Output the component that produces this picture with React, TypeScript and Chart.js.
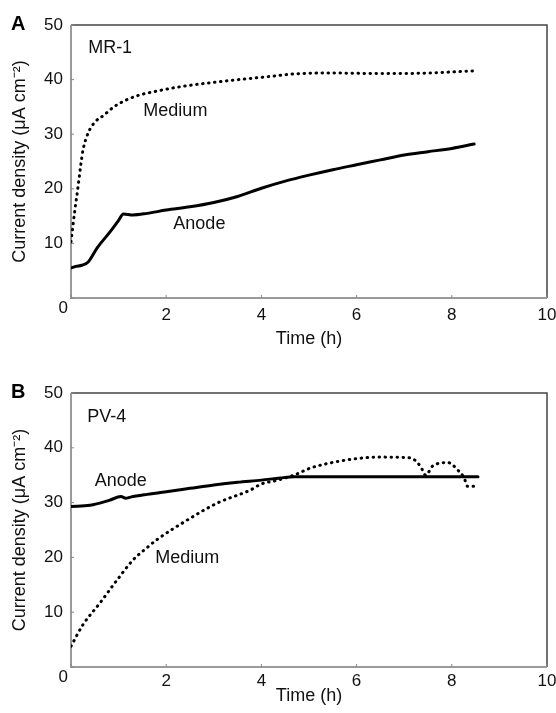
import { useEffect, useRef } from "react";
import { Chart, registerables } from "chart.js";

Chart.register(...registerables);

const FONT = '"Liberation Sans", Arial, sans-serif';

// Axis ranges / ticks
const timeTicks = [0, 2, 4, 6, 8, 10];
const currentTicks = [0, 10, 20, 30, 40, 50];

// Panel A: MR-1
const mr1MediumTime = [0, 0.08, 0.15, 0.2, 0.25, 0.36, 0.5, 0.68, 0.9, 1.17, 1.45, 1.75, 2.3, 3.1, 4.1, 4.8, 5.5, 6.5, 7.5, 8.0, 8.47];
const mr1MediumValues = [10.3, 16, 20.5, 24, 27, 30.2, 32.2, 33.4, 35, 36.3, 37.2, 37.8, 38.7, 39.6, 40.5, 41.1, 41.2, 41.1, 41.2, 41.4, 41.6];
const mr1AnodeTime = [0, 0.1, 0.23, 0.36, 0.55, 0.82, 1.0, 1.1, 1.3, 1.6, 2.0, 2.5, 3.0, 3.5, 4.0, 4.5, 5.0, 5.5, 6.0, 6.5, 7.0, 7.5, 8.0, 8.47];
const mr1AnodeValues = [5.5, 5.8, 6.0, 6.6, 9.2, 12.1, 14.2, 15.4, 15.2, 15.5, 16.1, 16.7, 17.5, 18.6, 20.1, 21.4, 22.5, 23.5, 24.4, 25.3, 26.2, 26.8, 27.4, 28.2];

// Panel B: PV-4
const pv4AnodeTime = [0, 0.4, 0.8, 1.05, 1.15, 1.25, 1.6, 2.0, 2.5, 3.0, 3.5, 4.0, 4.4, 4.7, 5.5, 6.5, 7.5, 8.55];
const pv4AnodeValues = [29.3, 29.5, 30.4, 31.1, 30.8, 31.0, 31.5, 32.0, 32.6, 33.2, 33.7, 34.1, 34.5, 34.7, 34.7, 34.7, 34.7, 34.7];
const pv4MediumTime = [0, 0.25, 0.61, 0.97, 1.3, 1.6, 1.8, 2.44, 3.07, 3.77, 4.0, 4.3, 4.68, 5.03, 5.6, 6.08, 6.44, 7.07, 7.2, 7.35, 7.45, 7.6, 7.92, 8.13, 8.26, 8.33, 8.47];
const pv4MediumValues = [3.8, 7.7, 11.7, 15.9, 19.5, 21.8, 23.2, 26.8, 29.9, 32.3, 33.4, 34.0, 35.0, 36.3, 37.5, 38.1, 38.3, 38.2, 37.9, 36.5, 35.0, 36.7, 37.3, 35.9, 34.5, 33.0, 33.0];

const toPoints = (t: number[], v: number[]) => t.map((x, i) => ({ x, y: v[i] }));

const framePlugin = {
  id: "frame",
  beforeDatasetsDraw(chart: any) {
    const { ctx, chartArea, scales } = chart;
    const { left, right, top, bottom } = chartArea;
    ctx.save();
    ctx.strokeStyle = "#444";
    ctx.lineWidth = 1.5;
    ctx.beginPath();
    ctx.moveTo(left, top);
    ctx.lineTo(right, top);
    ctx.lineTo(right, bottom);
    ctx.stroke();
    ctx.strokeStyle = "#9a9a9a";
    ctx.lineWidth = 2;
    ctx.beginPath();
    ctx.moveTo(left, top);
    ctx.lineTo(left, bottom);
    ctx.lineTo(right, bottom);
    ctx.stroke();
    ctx.lineWidth = 1;
    ctx.strokeStyle = "#888";
    ctx.beginPath();
    timeTicks.forEach((v) => {
      const px = scales.x.getPixelForValue(v);
      ctx.moveTo(px, bottom);
      ctx.lineTo(px, bottom - 3);
    });
    currentTicks.forEach((v) => {
      const py = scales.y.getPixelForValue(v);
      ctx.moveTo(left, py);
      ctx.lineTo(left + 3, py);
    });
    ctx.stroke();
    ctx.restore();
  },
  afterDraw(chart: any, _args: any, opts: any) {
    const { ctx, chartArea, scales } = chart;
    const { left, top, bottom } = chartArea;
    ctx.save();
    ctx.fillStyle = "#111";
    ctx.font = `17px ${FONT}`;
    ctx.textAlign = "right";
    ctx.textBaseline = "middle";
    ctx.fillText("0", left - 3, bottom + 10);
    ctx.textAlign = "left";
    ctx.font = `18px ${FONT}`;
    (opts.labels || []).forEach((l: any) => {
      ctx.fillText(l.text, scales.x.getPixelForValue(l.x), scales.y.getPixelForValue(l.y));
    });
    ctx.font = `bold 20px ${FONT}`;
    ctx.fillStyle = "#000";
    ctx.fillText(opts.panel, 11, top - 1);
    ctx.restore();
  },
};

type PanelProps = {
  height: number;
  padTop: number;
  xHeight: number;
  tickPad: number;
  panel: string;
  labels: { text: string; x: number; y: number }[];
  solid: { x: number; y: number }[];
  dotted: { x: number; y: number }[];
};

const zeroPad = (s: any) => {
  s.paddingLeft = 0;
  s.paddingRight = 0;
  s.paddingTop = 0;
  s.paddingBottom = 0;
};

function Panel(props: PanelProps) {
  const ref = useRef<HTMLCanvasElement>(null);
  useEffect(() => {
    if (!ref.current) return;
    const chart = new Chart(ref.current, {
      type: "line",
      data: {
        datasets: [
          {
            label: "Anode",
            data: props.solid,
            borderColor: "#000",
            borderWidth: 3,
            pointRadius: 0,
            cubicInterpolationMode: "monotone",
            borderCapStyle: "round",
            borderJoinStyle: "round",
          },
          {
            label: "Medium",
            data: props.dotted,
            borderColor: "#000",
            borderWidth: 3,
            pointRadius: 0,
            cubicInterpolationMode: "monotone",
            borderCapStyle: "round",
            borderDash: [0.5, 5.5],
          },
        ],
      },
      options: {
        animation: false,
        responsive: false,
        maintainAspectRatio: false,
        layout: { padding: { left: 0, right: 9, top: props.padTop, bottom: 0 } },
        plugins: {
          legend: { display: false },
          tooltip: { enabled: false },
          frame: { panel: props.panel, labels: props.labels },
        } as any,
        scales: {
          x: {
            type: "linear",
            min: 0,
            max: 10,
            afterFit: (s: any) => {
              s.height = props.xHeight;
              zeroPad(s);
            },
            afterBuildTicks: (s: any) => {
              s.ticks = timeTicks.map((v) => ({ value: v }));
            },
            grid: { display: false, drawTicks: false },
            border: { display: false },
            ticks: {
              padding: props.tickPad,
              color: "#111",
              font: { size: 17, family: FONT },
              callback: (v: any) => (v === 0 ? "" : String(v)),
            },
            title: {
              display: true,
              text: "Time (h)",
              color: "#111",
              font: { size: 18, family: FONT },
              padding: { top: 0, bottom: 6 },
            },
          },
          y: {
            type: "linear",
            min: 0,
            max: 50,
            afterFit: (s: any) => {
              s.width = 71;
              zeroPad(s);
            },
            afterBuildTicks: (s: any) => {
              s.ticks = currentTicks.map((v) => ({ value: v }));
            },
            grid: { display: false, drawTicks: false },
            border: { display: false },
            ticks: {
              padding: 8,
              color: "#111",
              font: { size: 17, family: FONT },
              callback: (v: any) => (v === 0 ? "" : String(v)),
            },
            title: {
              display: true,
              text: "Current density (μA cm⁻²)",
              color: "#111",
              font: { size: 18, family: FONT },
              padding: { top: 9, bottom: 0 },
            },
          },
        },
      },
      plugins: [framePlugin],
    });
    return () => chart.destroy();
  }, []);
  return <canvas ref={ref} width={556} height={props.height} style={{ display: "block" }} />;
}

export default function App() {
  return (
    <div style={{ position: "absolute", left: 0, top: 0, width: 556, height: 713, background: "#fff" }}>
      <Panel
        height={356}
        padTop={25}
        xHeight={58}
        tickPad={7}
        panel="A"
        labels={[
          { text: "MR-1", x: 0.36, y: 45.7 },
          { text: "Medium", x: 1.52, y: 34.2 },
          { text: "Anode", x: 2.15, y: 13.5 },
        ]}
        solid={toPoints(mr1AnodeTime, mr1AnodeValues)}
        dotted={toPoints(mr1MediumTime, mr1MediumValues)}
      />
      <Panel
        height={357}
        padTop={37}
        xHeight={46}
        tickPad={4}
        panel="B"
        labels={[
          { text: "PV-4", x: 0.34, y: 45.7 },
          { text: "Anode", x: 0.5, y: 33.9 },
          { text: "Medium", x: 1.77, y: 19.8 },
        ]}
        solid={toPoints(pv4AnodeTime, pv4AnodeValues)}
        dotted={toPoints(pv4MediumTime, pv4MediumValues)}
      />
    </div>
  );
}
